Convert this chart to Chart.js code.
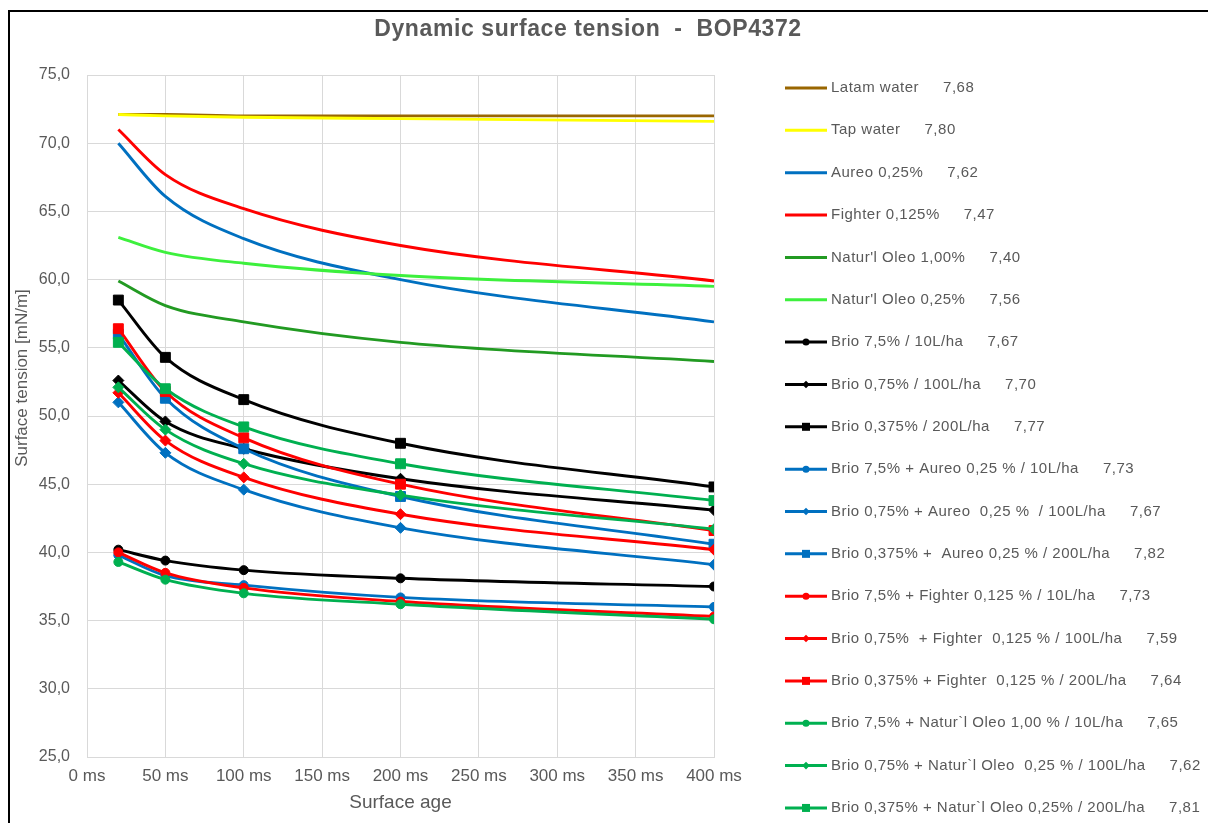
<!DOCTYPE html>
<html>
<head>
<meta charset="utf-8">
<script src="https://cdn.jsdelivr.net/npm/chart.js@4"></script>
<style>
  html, body { margin: 0; padding: 0; background: #ffffff; }
  #wrap { position: relative; width: 1208px; height: 823px; overflow: hidden; }
  canvas { display: block; }
</style>
</head>
<body>
<div id="wrap"><canvas id="c" width="1208" height="823"></canvas></div>
<script>
// ---------- data ----------
const surfaceAgeMs = [20, 50, 100, 200, 400];

const latamWater      = [72.1, 72.1, 72.0, 72.0, 72.0];
const tapWater        = [72.1, 72.0, 71.9, 71.8, 71.6];
const aureo025        = [70.0, 66.1, 63.0, 60.0, 56.9];
const fighter0125     = [71.0, 67.7, 65.2, 62.5, 59.9];
const naturlOleo100   = [59.9, 58.1, 56.9, 55.4, 54.0];
const naturlOleo025   = [63.1, 62.0, 61.2, 60.3, 59.5];
const brio75          = [40.2, 39.4, 38.7, 38.1, 37.5];
const brio075         = [52.6, 49.6, 47.6, 45.4, 43.1];
const brio0375        = [58.5, 54.3, 51.2, 48.0, 44.8];
const brio75Aureo     = [39.8, 38.3, 37.6, 36.7, 36.0];
const brio075Aureo    = [51.0, 47.3, 44.6, 41.8, 39.1];
const brio0375Aureo   = [56.0, 51.3, 47.6, 44.1, 40.6];
const brio75Fighter   = [40.0, 38.5, 37.4, 36.4, 35.3];
const brio075Fighter  = [51.7, 48.2, 45.5, 42.8, 40.2];
const brio0375Fighter = [56.4, 51.8, 48.4, 45.0, 41.6];
const brio75Oleo      = [39.3, 38.0, 37.0, 36.2, 35.1];
const brio075Oleo     = [52.1, 49.0, 46.5, 44.2, 41.7];
const brio0375Oleo    = [55.4, 52.0, 49.2, 46.5, 43.8];

const seriesNames = [
  "Latam water", "Tap water", "Aureo 0,25%", "Fighter 0,125%",
  "Natur'l Oleo 1,00%", "Natur'l Oleo 0,25%",
  "Brio 7,5% / 10L/ha", "Brio 0,75% / 100L/ha", "Brio 0,375% / 200L/ha",
  "Brio 7,5% + Aureo 0,25 % / 10L/ha", "Brio 0,75% + Aureo  0,25 %  / 100L/ha", "Brio 0,375% +  Aureo 0,25 % / 200L/ha",
  "Brio 7,5% + Fighter 0,125 % / 10L/ha", "Brio 0,75%  + Fighter  0,125 % / 100L/ha", "Brio 0,375% + Fighter  0,125 % / 200L/ha",
  "Brio 7,5% + Natur`l Oleo 1,00 % / 10L/ha", "Brio 0,75% + Natur`l Oleo  0,25 % / 100L/ha", "Brio 0,375% + Natur`l Oleo 0,25% / 200L/ha"
];
const phValues = ["7,68","7,80","7,62","7,47","7,40","7,56","7,67","7,70","7,77","7,73","7,67","7,82","7,73","7,59","7,64","7,65","7,62","7,81"];
const seriesValues = [
  latamWater, tapWater, aureo025, fighter0125, naturlOleo100, naturlOleo025,
  brio75, brio075, brio0375, brio75Aureo, brio075Aureo, brio0375Aureo,
  brio75Fighter, brio075Fighter, brio0375Fighter, brio75Oleo, brio075Oleo, brio0375Oleo
];
const seriesColors = [
  "#996600", "#FFFF00", "#0070C0", "#FF0000", "#229A22", "#3DF03D",
  "#000000", "#000000", "#000000", "#0070C0", "#0070C0", "#0070C0",
  "#FF0000", "#FF0000", "#FF0000", "#00B050", "#00B050", "#00B050"
];
const seriesMarkers = [
  null, null, null, null, null, null,
  "circle", "rectRot", "rect", "circle", "rectRot", "rect",
  "circle", "rectRot", "rect", "circle", "rectRot", "rect"
];

// ---------- styles ----------
const TEXT_COLOR = "#595959";
const GRID_COLOR = "#d9d9d9";
const FONT_REG = "'Liberation Sans', Arial, sans-serif";
const markerRadius = { circle: 4.5, rectRot: 5.5, rect: 7 };

const datasets = seriesValues.map((vals, i) => ({
  label: seriesNames[i] + "     " + phValues[i],
  data: surfaceAgeMs.map((t, k) => ({ x: t, y: vals[k] })),
  borderColor: seriesColors[i],
  backgroundColor: seriesColors[i],
  borderWidth: 2.9,
  pointStyle: seriesMarkers[i] || "circle",
  pointRadius: seriesMarkers[i] ? markerRadius[seriesMarkers[i]] : 0,
  pointBorderWidth: 1,
  pointBackgroundColor: seriesColors[i],
  pointBorderColor: seriesColors[i],
  cubicInterpolationMode: "monotone",
  fill: false,
  order: seriesValues.length - i
}));

function drawMarker(ctx, style, x, y, r, color) {
  ctx.save();
  ctx.fillStyle = color;
  ctx.beginPath();
  if (style === "circle") {
    ctx.arc(x, y, r, 0, Math.PI * 2);
  } else if (style === "rectRot") {
    ctx.moveTo(x, y - r); ctx.lineTo(x + r, y); ctx.lineTo(x, y + r); ctx.lineTo(x - r, y); ctx.closePath();
  } else if (style === "rect") {
    ctx.rect(x - r, y - r, 2 * r, 2 * r);
  }
  ctx.fill();
  ctx.restore();
}

const decorPlugin = {
  id: "decor",
  afterDraw(chart) {
    const ctx = chart.ctx;
    ctx.save();
    // outer frame
    ctx.strokeStyle = "#000000";
    ctx.lineWidth = 2;
    ctx.strokeRect(9, 11, 1250, 900);

    // title
    ctx.fillStyle = TEXT_COLOR;
    ctx.font = "bold 23px " + FONT_REG;
    ctx.textAlign = "center";
    ctx.textBaseline = "middle";
    try { ctx.letterSpacing = "0.6px"; } catch (e) {}
    ctx.fillText("Dynamic surface tension  -  BOP4372", 588, 30);
    try { ctx.letterSpacing = "0px"; } catch (e) {}

    // y axis title
    ctx.save();
    ctx.translate(22, 378);
    ctx.rotate(-Math.PI / 2);
    ctx.font = "17px " + FONT_REG;
    ctx.fillText("Surface tension [mN/m]", 0, 0);
    ctx.restore();

    // legend
    const x0 = 785, x1 = 827, tx = 831, y0 = 88, dy = 42.35;
    ctx.textAlign = "left";
    ctx.font = "15px " + FONT_REG;
    try { ctx.letterSpacing = "0.5px"; } catch (e) {}
    chart.data.datasets.forEach((ds, i) => {
      const y = y0 + i * dy;
      ctx.strokeStyle = seriesColors[i];
      ctx.lineWidth = 3;
      ctx.beginPath(); ctx.moveTo(x0, y); ctx.lineTo(x1, y); ctx.stroke();
      if (seriesMarkers[i]) {
        const lr = { circle: 3.5, rectRot: 3.8, rect: 4 }[seriesMarkers[i]];
        drawMarker(ctx, seriesMarkers[i], (x0 + x1) / 2, y, lr, seriesColors[i]);
      }
      ctx.fillStyle = TEXT_COLOR;
      ctx.fillText(seriesNames[i], tx, y);
      const w = ctx.measureText(seriesNames[i]).width;
      ctx.fillText(phValues[i], tx + w + 24, y);
    });
    try { ctx.letterSpacing = "0px"; } catch (e) {}
    ctx.restore();
  }
};

new Chart(document.getElementById("c"), {
  type: "line",
  data: { datasets },
  plugins: [decorPlugin],
  options: {
    responsive: false,
    animation: false,
    events: [],
    layout: { padding: { left: 10, right: 494, top: 75, bottom: 0 } },
    plugins: {
      legend: { display: false },
      title: { display: false },
      tooltip: { enabled: false }
    },
    scales: {
      x: {
        type: "linear",
        min: 0, max: 400,
        ticks: {
          stepSize: 50,
          color: TEXT_COLOR,
          font: { family: FONT_REG, size: 17 },
          padding: 9,
          maxRotation: 0,
          autoSkip: false,
          callback: (v) => v + " ms"
        },
        grid: { color: GRID_COLOR, lineWidth: 1, drawTicks: false },
        border: { color: GRID_COLOR },
        title: {
          display: true, text: "Surface age", color: TEXT_COLOR,
          font: { family: FONT_REG, size: 19 },
          padding: { top: 0, bottom: 9 }
        },
        afterFit(s) { s.height = 66; }
      },
      y: {
        min: 25, max: 75,
        ticks: {
          stepSize: 5,
          color: TEXT_COLOR,
          font: { family: FONT_REG, size: 16 },
          padding: 17,
          callback: (v) => v.toFixed(1).replace(".", ",")
        },
        grid: { color: GRID_COLOR, lineWidth: 1, drawTicks: false },
        border: { color: GRID_COLOR },
        afterFit(s) { s.width = 77; }
      }
    }
  }
});
</script>
</body>
</html>
